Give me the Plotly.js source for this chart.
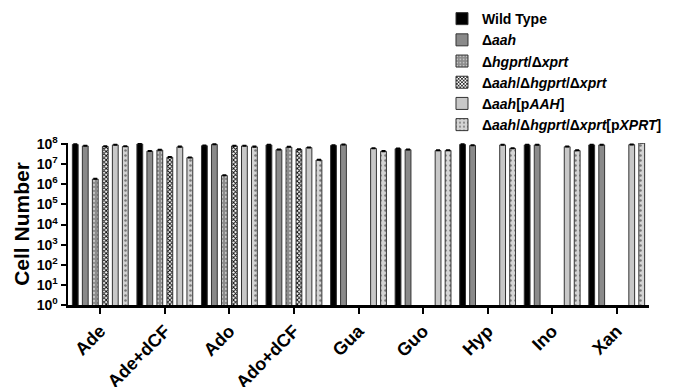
<!DOCTYPE html>
<html><head><meta charset="utf-8">
<script src="https://cdn.plot.ly/plotly-3.0.1.min.js"></script>
<style>html,body{margin:0;padding:0;background:#fff}#c{width:680px;height:387px}</style>
</head><body><div id="c"></div>
<script>
const categories = ["Ade","Ade+dCF","Ado","Ado+dCF","Gua","Guo","Hyp","Ino","Xan"];
const seriesNames = [
  "<b>Wild Type</b>",
  "<b>Δ<i>aah</i></b>",
  "<b>Δ<i>hgprt</i>/Δ<i>xprt</i></b>",
  "<b>Δ<i>aah</i>/Δ<i>hgprt</i>/Δ<i>xprt</i></b>",
  "<b>Δ<i>aah</i>[p<i>AAH</i>]</b>",
  "<b>Δ<i>aah</i>/Δ<i>hgprt</i>/Δ<i>xprt</i>[p<i>XPRT</i>]</b>"
];
const wildType   = [9.5e7, 1.0e8, 8.2e7, 9.0e7, 8.5e7, 5.8e7, 9.5e7, 9.0e7, 9.0e7];
const aah        = [8.0e7, 4.4e7, 9.5e7, 5.2e7, 9.2e7, 5.2e7, 8.5e7, 9.0e7, 9.0e7];
const hgprtXprt  = [1.8e6, 5.0e7, 2.7e6, 7.0e7, null, null, null, null, null];
const aahHgXprt  = [7.5e7, 2.2e7, 8.0e7, 5.3e7, null, null, null, null, null];
const aahPAAH    = [9.0e7, 7.2e7, 8.0e7, 6.6e7, 6.0e7, 4.7e7, 9.0e7, 7.3e7, 9.3e7];
const tripPXPRT  = [7.5e7, 2.1e7, 7.2e7, 1.6e7, 4.3e7, 4.8e7, 6.0e7, 4.7e7, 1.15e8];
const yTickVals = [1,10,100,1e3,1e4,1e5,1e6,1e7,1e8];
const yTickText = ["10<sup>0</sup>","10<sup>1</sup>","10<sup>2</sup>","10<sup>3</sup>","10<sup>4</sup>","10<sup>5</sup>","10<sup>6</sup>","10<sup>7</sup>","10<sup>8</sup>"];

const allSeries = [wildType, aah, hgprtXprt, aahHgXprt, aahPAAH, tripPXPRT];
const styles = [
  {color:"#000000"},
  {color:"#8a8a8a"},
  {color:"#8c8c8c", pattern:{shape:".", fgcolor:"#c8c8c8", bgcolor:"#8c8c8c", size:4, solidity:0.25}},
  {color:"#ffffff", pattern:{shape:"x", fgcolor:"#000000", bgcolor:"#ffffff", size:3, solidity:0.5}},
  {color:"#c8c8c8"},
  {color:"#d4d4d4", pattern:{shape:".", fgcolor:"#7a7a7a", bgcolor:"#d4d4d4", size:5, solidity:0.2}}
];
const traces = allSeries.map((vals,i)=>({
  type:"bar", x:categories, y:vals, name:seriesNames[i],
  marker:Object.assign({line:{color:"#333", width:1}}, styles[i]),
  error_y:{type:"array", array:vals.map(v=>v==null?null:v*0.06), symmetric:false, arrayminus:vals.map(()=>0), color:"#000", thickness:1.5, width:2}
}));

const layout = {
  width:680, height:387,
  margin:{l:68, r:31, t:143, b:82, autoexpand:false},
  paper_bgcolor:"#fff", plot_bgcolor:"#fff",
  barmode:"group", bargap:0.07, bargroupgap:0.42,
  font:{family:"Liberation Sans, Arial, sans-serif", color:"#000"},
  xaxis:{
    type:"category", showline:true, linecolor:"#000", linewidth:2.5,
    ticks:"outside", ticklen:6, tickwidth:2, tickcolor:"#000",
    tickangle:-45, tickfont:{size:18, weight:"bold"}, showgrid:false, zeroline:false
  },
  yaxis:{
    type:"log", range:[0,8.05], showline:true, linecolor:"#000", linewidth:2.5,
    ticks:"outside", ticklen:5, tickwidth:2, tickcolor:"#000",
    tickvals:yTickVals, ticktext:yTickText, tickfont:{size:14, weight:"bold"},
    showgrid:false, zeroline:false,
    title:{text:"<b>Cell Number</b>", font:{size:21}, standoff:2}
  },
  legend:{x:0.6437, y:1.864, xanchor:"left", yanchor:"top", font:{size:14}, bgcolor:"rgba(0,0,0,0)", tracegroupgap:0, itemwidth:30},
  showlegend:true
};
Plotly.newPlot("c", traces, layout, {displayModeBar:false, staticPlot:true});
</script></body></html>
